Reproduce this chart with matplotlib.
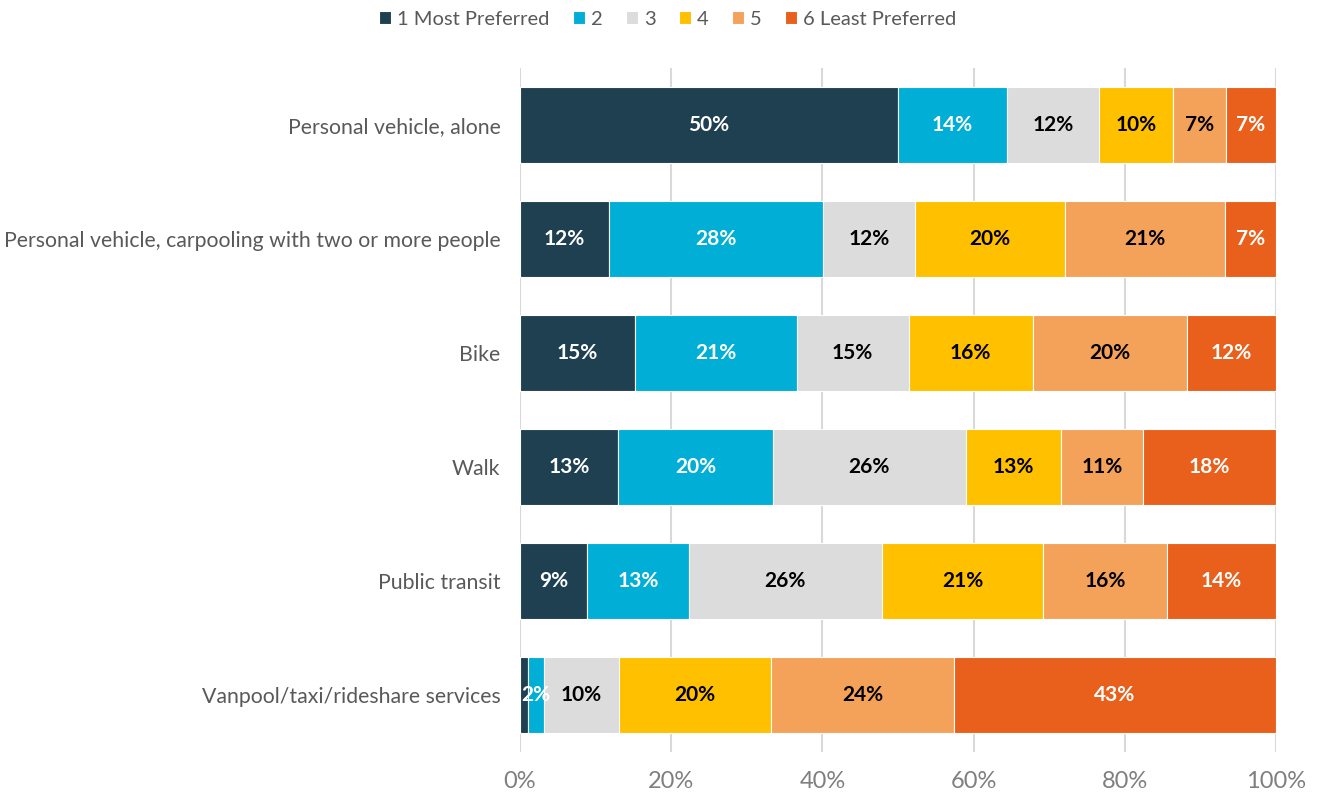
import matplotlib
matplotlib.use("Agg")
import matplotlib.pyplot as plt
import numpy as np

plt.rcParams['font.family'] = ['Lato', 'DejaVu Sans']

categories = ["Personal vehicle, alone",
              "Personal vehicle, carpooling with two or more people",
              "Bike", "Walk", "Public transit",
              "Vanpool/taxi/rideshare services"]
series_names = ["1 Most Preferred", "2", "3", "4", "5", "6 Least Preferred"]
values = [
    [50.0, 14.4, 12.2, 9.8, 7.0, 6.6],
    [11.8, 28.3, 12.2, 19.8, 21.2, 6.7],
    [15.2, 21.4, 14.8, 16.4, 20.4, 11.8],
    [13.0, 20.4, 25.6, 12.6, 10.8, 17.6],
    [8.9, 13.4, 25.6, 21.3, 16.4, 14.4],
    [1.1, 2.1, 9.9, 20.1, 24.2, 42.6],
]
colors = ["#1F4050", "#00AED6", "#DCDCDC", "#FFC000", "#F4A259", "#E8601C"]
label_colors = ["white", "white", "black", "black", "black", "white"]
xticks = [0, 20, 40, 60, 80, 100]

vals = np.array(values)
fig = plt.figure(figsize=(13.22, 8.0), dpi=100)
ax = fig.add_axes([520/1322, 1-752/800, (1276-520)/1322, (752-68)/800])

y = np.arange(len(categories))
left = np.zeros(len(categories))
for j, name in enumerate(series_names):
    w = vals[:, j]
    ax.barh(y, w, left=left, height=0.67, color=colors[j], edgecolor='white',
            linewidth=0.8, label=name, zorder=3)
    for i in range(len(categories)):
        if w[i] >= 1.5:
            ax.text(left[i] + w[i]/2, y[i], f"{round(w[i]):.0f}%", ha='center', va='center',
                    fontsize=15, fontweight='bold', color=label_colors[j], zorder=4)
    left += w

ax.set_xlim(0, 100)
ax.set_ylim(len(categories) - 0.5, -0.5)
ax.set_yticks(y)
ax.set_yticklabels(categories, fontsize=15.3, color='#595959')
ax.set_xticks(xticks)
ax.set_xticklabels([f"{t}%" for t in xticks], fontsize=17, color='#7F7F7F')
ax.tick_params(axis='both', length=0)
ax.tick_params(axis='x', pad=14)
ax.tick_params(axis='y', pad=14)
ax.grid(axis='x', color='#D9D9D9', linewidth=1.5, zorder=0)
for s in ax.spines.values():
    s.set_visible(False)

fig.legend(loc='upper center', bbox_to_anchor=(0.505, 1.009), ncol=6, frameon=False,
           fontsize=14.5, handlelength=0.6, handleheight=0.6, handletextpad=0.3,
           columnspacing=1.15, labelcolor='#595959')

fig.savefig("out.png", dpi=100)
